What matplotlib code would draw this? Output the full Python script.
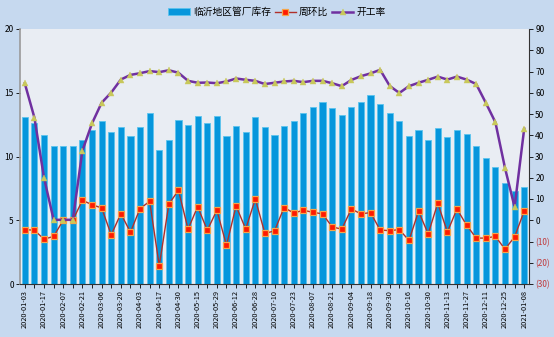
import matplotlib
matplotlib.use("Agg")
import matplotlib.pyplot as plt
import numpy as np

plt.rcParams['font.family'] = ['Noto Sans CJK SC', 'DejaVu Sans']

dates = [
    "2020-01-03", "2020-01-10", "2020-01-17", "2020-01-23", "2020-02-07", "2020-02-14",
    "2020-02-21", "2020-02-28", "2020-03-06", "2020-03-13", "2020-03-20", "2020-03-27",
    "2020-04-03", "2020-04-10", "2020-04-17", "2020-04-24", "2020-04-30", "2020-05-08",
    "2020-05-15", "2020-05-22", "2020-05-29", "2020-06-05", "2020-06-12", "2020-06-19",
    "2020-06-28", "2020-07-03", "2020-07-10", "2020-07-17", "2020-07-23", "2020-07-31",
    "2020-08-07", "2020-08-14", "2020-08-21", "2020-08-28", "2020-09-04", "2020-09-11",
    "2020-09-18", "2020-09-25", "2020-09-30", "2020-10-09", "2020-10-16", "2020-10-23",
    "2020-10-30", "2020-11-06", "2020-11-13", "2020-11-20", "2020-11-27", "2020-12-04",
    "2020-12-11", "2020-12-18", "2020-12-25", "2020-12-31", "2021-01-08",
]

inventory = [
    13.1, 12.6, 11.7, 10.8, 10.8, 10.8, 11.3, 12.1, 12.8, 11.9,
    12.3, 11.6, 12.3, 13.4, 10.5, 11.3, 12.9, 12.45, 13.2, 12.6,
    13.2, 11.6, 12.4, 11.9, 13.1, 12.3, 11.7, 12.4, 12.8, 13.4,
    13.9, 14.3, 13.8, 13.25, 13.9, 14.3, 14.8, 14.1, 13.4, 12.8,
    11.6, 12.1, 11.3, 12.2, 11.5, 12.1, 11.8, 10.8, 9.9, 9.15,
    7.9, 7.3, 7.6,
]

wow = [
    -4.4, -4.7, -8.9, -7.6, 0.0, 0.0, 9.4, 7.3, 5.8, -6.9,
    3.1, -5.6, 5.5, 8.9, -21.4, 7.6, 14.1, -4.2, 6.4, -4.7,
    4.7, -11.8, 6.7, -4.1, 10.0, -6.2, -5.0, 6.0, 3.4, 4.7,
    3.75, 3.0, -3.1, -4.2, 5.3, 3.0, 3.6, -4.6, -4.9, -4.4,
    -9.5, 4.2, -6.4, 8.0, -5.5, 5.3, -2.3, -8.4, -8.4, -7.6,
    -13.6, -7.8, 4.3,
]

utilization = [
    64.4, 48.3, 20.0, 0.2, 0.2, 0.2, 32.8, 45.6, 55.3, 60.1,
    66.2, 68.4, 69.2, 70.2, 69.7, 70.6, 69.4, 65.6, 64.7, 64.8,
    64.5, 65.3, 66.7, 66.1, 65.6, 64.1, 64.7, 65.3, 65.6, 65.0,
    65.6, 65.6, 64.5, 63.1, 66.0, 67.8, 69.1, 70.8, 63.2, 59.9,
    63.1, 64.7, 66.1, 67.6, 66.2, 67.6, 66.2, 64.1, 55.3, 46.1,
    24.6, 6.2, 43.1,
]

labels = ["临沂地区管厂库存", "周环比", "开工率"]
left_ticks = [0, 5, 10, 15, 20]
right_ticks = [-30, -20, -10, 0, 10, 20, 30, 40, 50, 60, 70, 80, 90]

fig = plt.figure(figsize=(5.54, 3.37), dpi=100)
fig.patch.set_facecolor('#c6d9ef')
ax = fig.add_axes([20/554, 1-284/337, (529-20)/554, (284-29)/337])
ax.set_facecolor('#e9edf3')
x = np.arange(len(dates))

bars = ax.bar(x, inventory, width=0.64, color='#0696dc', edgecolor='#5cc4ee',
              linewidth=0.6, zorder=2, label=labels[0])
ax.set_xlim(-0.5, len(dates) - 0.5)
ax.set_ylim(0, 20)
ax.set_yticks(left_ticks)
ax.set_yticklabels([str(t) for t in left_ticks], fontsize=6)
ax.set_xticks(x)
ax.set_xticklabels([d if i % 2 == 0 else "" for i, d in enumerate(dates)],
                   rotation=90, fontsize=5.3)
ax.tick_params(axis='x', length=3, width=0.6, pad=1.5)
ax.tick_params(axis='y', length=3, width=0.6, pad=1.5)
for s in ['top', 'right']:
    ax.spines[s].set_visible(False)
ax.spines['left'].set_color('#9a9a9a')
ax.spines['left'].set_linewidth(1.2)
ax.spines['bottom'].set_color('#333333')
ax.spines['bottom'].set_linewidth(0.8)

ax2 = ax.twinx()
ax2.set_ylim(-30, 90)
ax2.set_yticks(right_ticks)
rl = ax2.set_yticklabels([f"({-t})" if t < 0 else str(t) for t in right_ticks], fontsize=6)
for t, lab in zip(right_ticks, rl):
    if t < 0:
        lab.set_color('#c0393b')
ax2.tick_params(axis='y', length=3, width=0.6, pad=1.5)
for s in ['top', 'left', 'bottom']:
    ax2.spines[s].set_visible(False)
ax2.spines['right'].set_color('#333333')
ax2.spines['right'].set_linewidth(0.8)

l1, = ax2.plot(x, wow, color='#b0302a', lw=1.0, marker='s', markersize=4.8,
               markerfacecolor='#ff1a00', markeredgecolor='#f5a54a', markeredgewidth=0.9,
               zorder=3, label=labels[1])
l2, = ax2.plot(x, utilization, color='#7030a0', lw=1.8, marker='^', markersize=4.0,
               markerfacecolor='#c8c85a', markeredgecolor='#c8c85a', markeredgewidth=0.3,
               zorder=4, label=labels[2])

fig.legend([bars, l1, l2], labels, loc='center', bbox_to_anchor=(0.5, 1-12/337),
           ncol=3, frameon=False, fontsize=7, handlelength=2.2, handletextpad=0.3,
           columnspacing=0.4, borderaxespad=0)

fig.savefig("out.png", dpi=100, facecolor=fig.get_facecolor())
